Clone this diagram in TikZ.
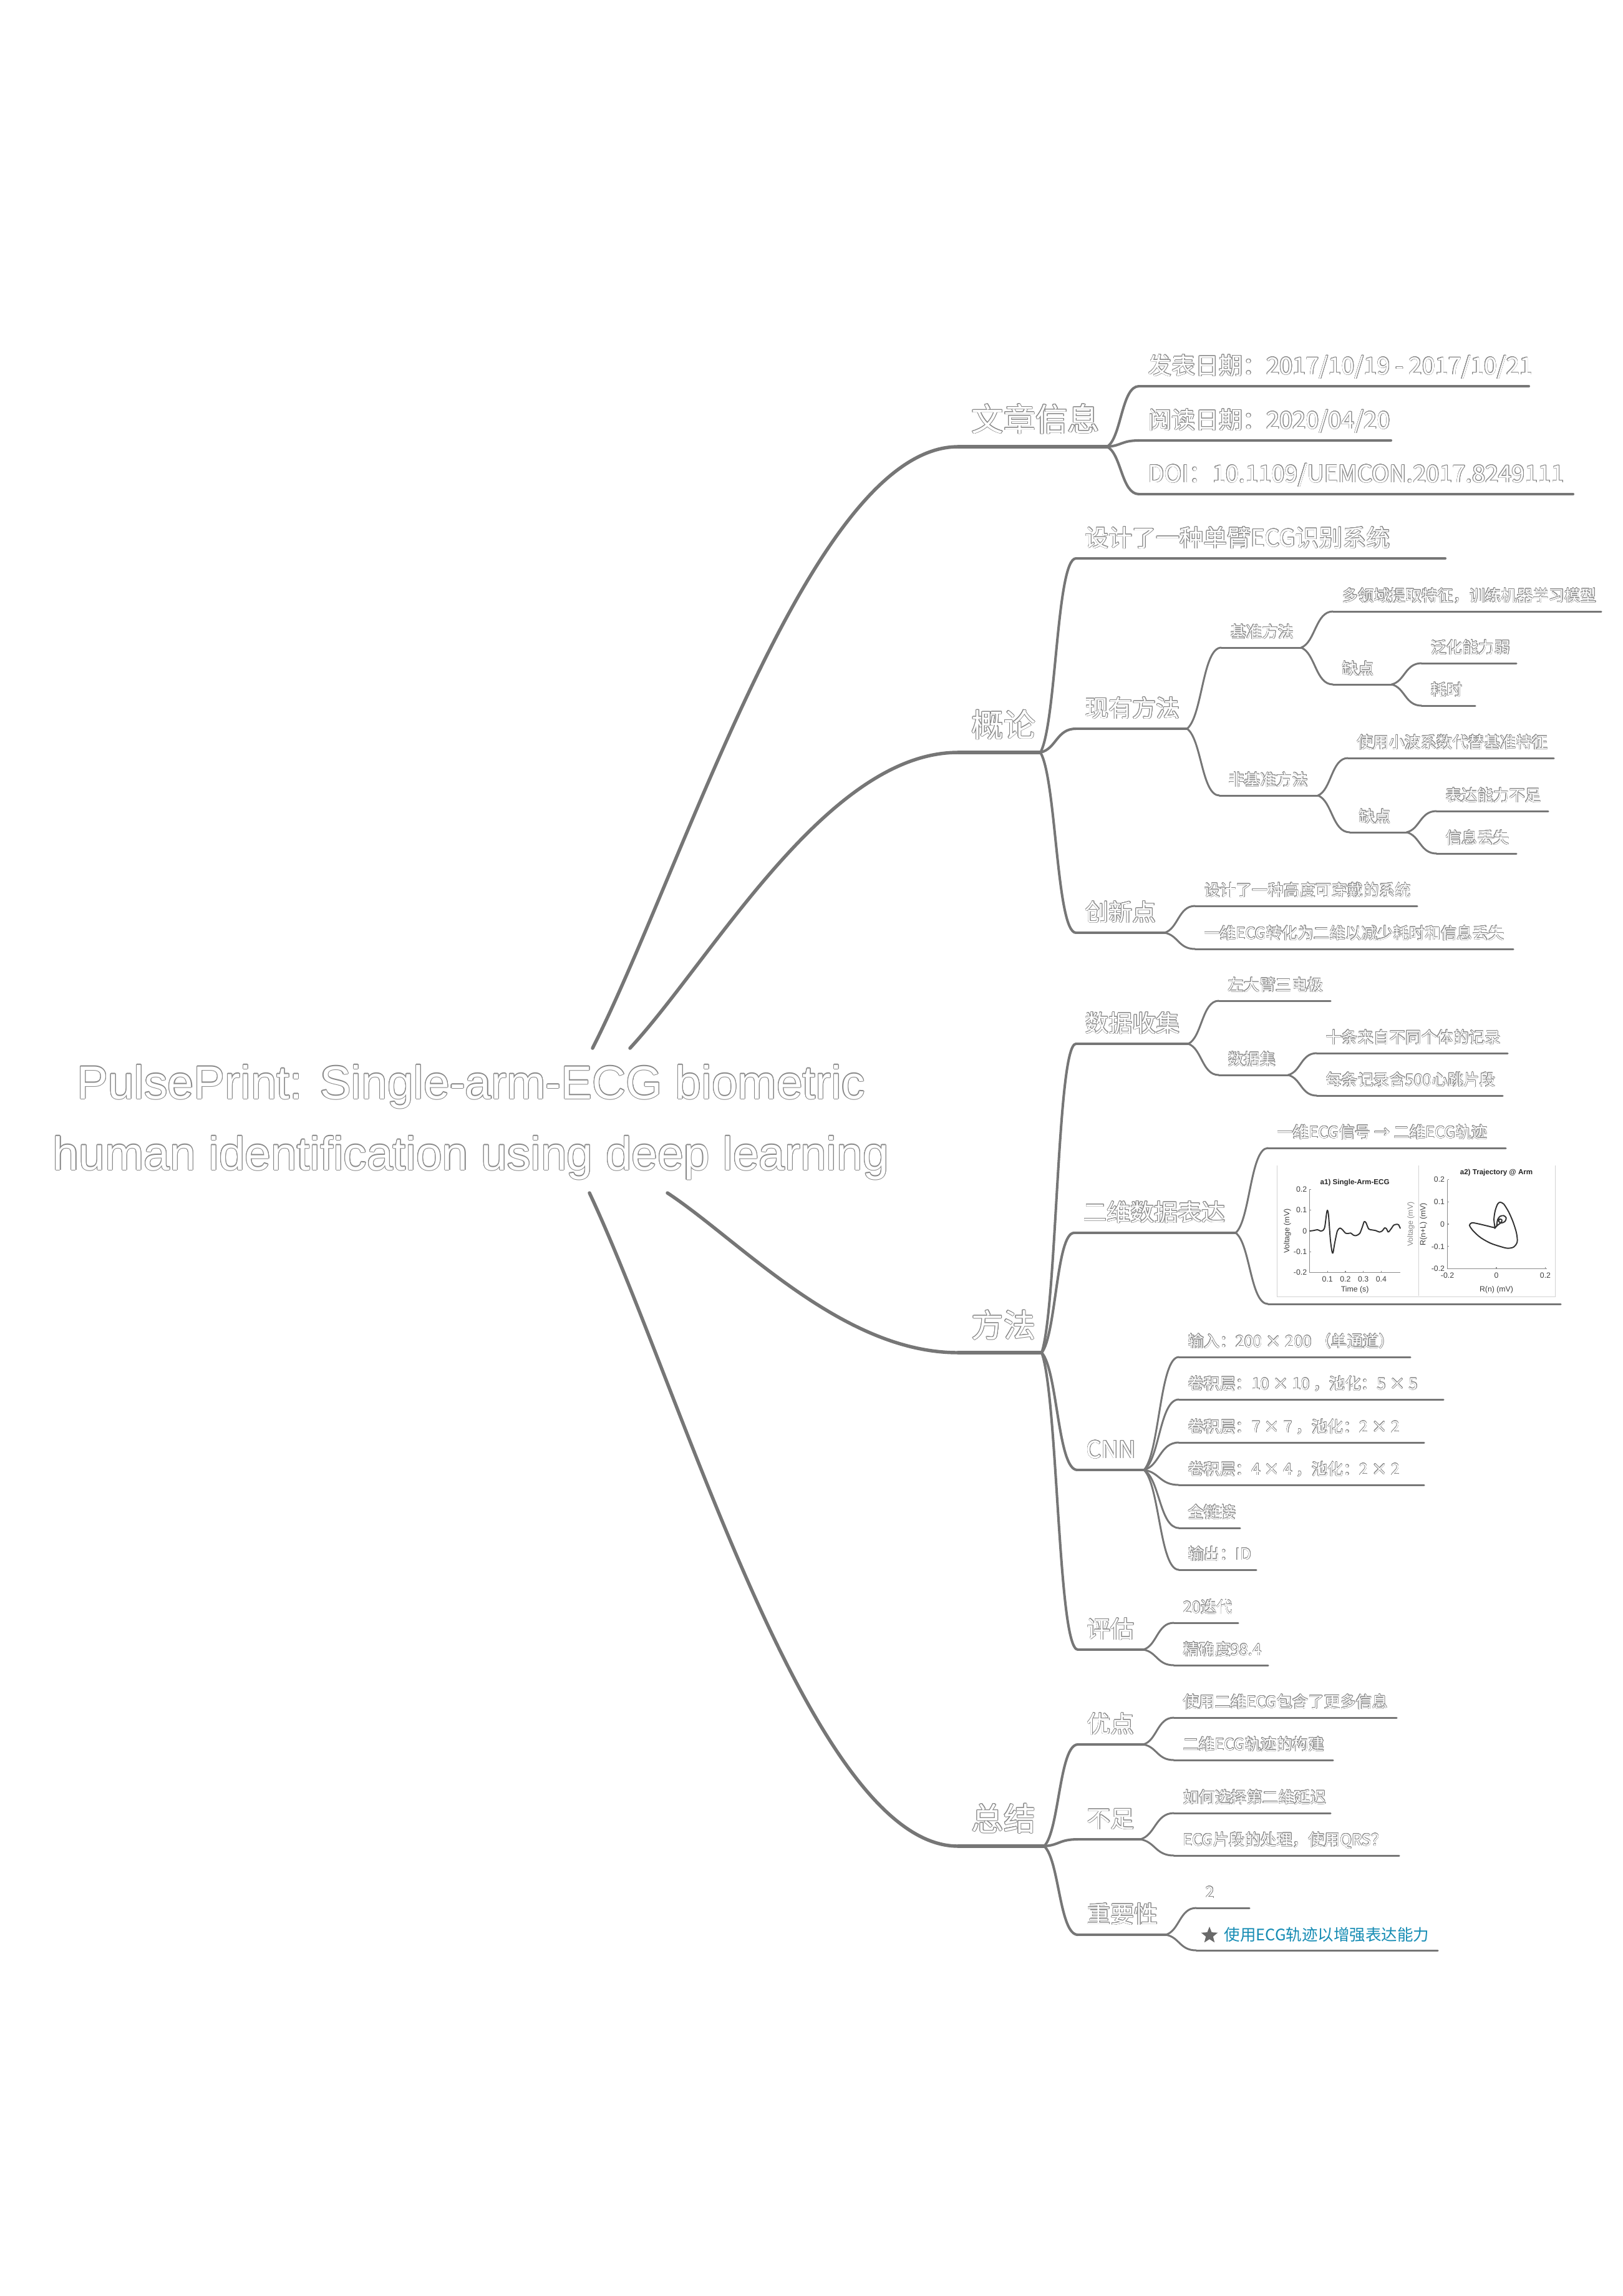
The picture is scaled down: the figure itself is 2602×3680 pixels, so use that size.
\documentclass[tikz,border=0pt]{standalone}
\usepackage{fontspec}
\setmainfont{Noto Sans CJK SC}
\newfontfamily\titlefont{Liberation Sans}
\newfontfamily\figfont{Liberation Sans}
\usepackage[copies]{contour}
\contourlength{0.25pt}
\contournumber{16}
\usetikzlibrary{calc,shapes.geometric}
\definecolor{linec}{RGB}{118,118,118}
\definecolor{outc}{RGB}{135,135,135}
\definecolor{bluec}{RGB}{22,140,180}
\definecolor{starc}{RGB}{105,105,105}
\definecolor{axisc}{RGB}{140,140,140}
\definecolor{ecgc}{RGB}{50,50,50}
\tikzset{
  ulA/.style={draw=linec, line width=1.55pt, line cap=round},
  ulB/.style={draw=linec, line width=1.15pt, line cap=round},
  ulC/.style={draw=linec, line width=0.85pt, line cap=round},
  txA/.style={anchor=base west, inner sep=0pt, text=white, font=\fontsize{14.6}{17}\selectfont},
  txB/.style={anchor=base west, inner sep=0pt, text=white, font=\fontsize{10.8}{13}\selectfont},
  txC/.style={anchor=base west, inner sep=0pt, text=white, font=\fontsize{7.25}{9}\selectfont},
  ttl/.style={anchor=base, inner sep=0pt, text=white, font=\titlefont\fontsize{21.3}{25}\selectfont},
  fig/.style={inner sep=0.4pt, text=black!75, font=\figfont\fontsize{3.5}{4}\selectfont},
  figt/.style={inner sep=0.4pt, text=black!85, font=\figfont\bfseries\fontsize{3.3}{4}\selectfont},
  axl/.style={draw=axisc, line width=0.35pt},
  ecg/.style={draw=ecgc, line width=0.55pt, line join=round},
}
% topic: name, x0, x1, y, text
\newcommand\topicA[5]{\coordinate (#1-s) at (#2,#4);\coordinate (#1-e) at (#3,#4);
  \draw[ulA] (#1-s) -- (#1-e);
  \node[txA] (#1) at (#2+21,#4-25) {\contourlength{0.28pt}\contour{outc}{#5}};}
\newcommand\topicB[5]{\coordinate (#1-s) at (#2,#4);\coordinate (#1-e) at (#3,#4);
  \draw[ulB] (#1-s) -- (#1-e);
  \node[txB] (#1) at (#2+14,#4-19) {\contourlength{0.2pt}\contour{outc}{#5}};}
\newcommand\topicC[5]{\coordinate (#1-s) at (#2,#4);\coordinate (#1-e) at (#3,#4);
  \draw[ulC] (#1-s) -- (#1-e);
  \node[txC] (#1) at (#2+14,#4-16) {\contourlength{0.14pt}\contour{outc}{#5}};}
% connector from parent's branch point to child's underline start
\newcommand\subconn[3]{\draw[#1] let \p1=(#2-e), \p2=(#3-s) in (\p1)
  .. controls ({\x1+0.45*(\x2-\x1)},{\y1+0.15*(\y2-\y1)}) and ({\x1+0.45*(\x2-\x1)},{\y2}) .. (\p2);}
\newcommand\mainconn[2]{\draw[ulA] let \p1=(#1), \p2=(#2-s) in (\p1)
  .. controls ({\x1+0.25*(\x2-\x1)},{\y1+0.3*(\y2-\y1)}) and ({\x1+0.6*(\x2-\x1)},{\y2}) .. (\p2);}
\begin{document}
\begin{tikzpicture}[x=0.1mm,y=-0.1mm]
\useasboundingbox (0,0) rectangle (2602,3680);
\fill[white] (0,0) rectangle (2602,3680);

% ---------- central topic ----------
\node[ttl] (titleA) at (755,1761) {\contourlength{0.3pt}\contour{outc}{PulsePrint: Single-arm-ECG biometric}};
\node[ttl] (titleB) at (755,1875) {\contourlength{0.3pt}\contour{outc}{human identification using deep learning}};
\coordinate (cu1) at (950,1680);
\coordinate (cu2) at (1010,1680);
\coordinate (cd1) at (945,1912);
\coordinate (cd2) at (1070,1912);

% ---------- main topics ----------
\topicA{wz}{1536}{1775}{716}{文章信息}
\topicA{gl}{1536}{1668}{1206}{概论}
\topicA{ff}{1536}{1670}{2168}{方法}
\topicA{zj}{1536}{1674}{2959}{总结}
\mainconn{cu1}{wz}
\mainconn{cu2}{gl}
\mainconn{cd2}{ff}
\mainconn{cd1}{zj}

% ---------- 文章信息 ----------
\topicB{fb}{1826}{2451}{619}{发表日期：2017/10/19 - 2017/10/21}
\topicB{yd}{1826}{2230}{706}{阅读日期：2020/04/20}
\topicB{doi}{1826}{2522}{792}{DOI：10.1109/UEMCON.2017.8249111}
\subconn{ulB}{wz}{fb}
\subconn{ulB}{wz}{yd}
\subconn{ulB}{wz}{doi}

% ---------- 概论 ----------
\topicB{sj}{1725}{2317}{895}{设计了一种单臂ECG识别系统}
\topicB{xy}{1725}{1903}{1168}{现有方法}
\topicB{cx}{1725}{1867}{1495}{创新点}
\subconn{ulB}{gl}{sj}
\subconn{ulB}{gl}{xy}
\subconn{ulB}{gl}{cx}

\topicC{jz}{1958}{2086}{1038}{基准方法}
\topicC{fjz}{1955}{2113}{1275}{非基准方法}
\subconn{ulC}{xy}{jz}
\subconn{ulC}{xy}{fjz}

\topicC{dly}{2137}{2567}{980}{多领域提取特征，训练机器学习模型}
\topicC{qda}{2137}{2231}{1097}{缺点}
\subconn{ulC}{jz}{dly}
\subconn{ulC}{jz}{qda}
\topicC{fh}{2279}{2431}{1063}{泛化能力弱}
\topicC{hs}{2279}{2365}{1131}{耗时}
\subconn{ulC}{qda}{fh}
\subconn{ulC}{qda}{hs}

\topicC{xb}{2161}{2491}{1215}{使用小波系数代替基准特征}
\topicC{qdb}{2164}{2255}{1334}{缺点}
\subconn{ulC}{fjz}{xb}
\subconn{ulC}{fjz}{qdb}
\topicC{bd}{2303}{2482}{1300}{表达能力不足}
\topicC{xx}{2303}{2431}{1368}{信息丢失}
\subconn{ulC}{qdb}{bd}
\subconn{ulC}{qdb}{xx}

\topicC{kc}{1916}{2272}{1452}{设计了一种高度可穿戴的系统}
\topicC{zh}{1916}{2426}{1521}{一维ECG转化为二维以减少耗时和信息丢失}
\subconn{ulC}{cx}{kc}
\subconn{ulC}{cx}{zh}

% ---------- 方法 ----------
\topicB{sjsj}{1725}{1905}{1673}{数据收集}
\topicB{ew}{1722}{1981}{1976}{二维数据表达}
\topicB{cnn}{1727}{1834}{2356}{CNN}
\topicB{pg}{1728}{1833}{2644}{评估}
\subconn{ulB}{ff}{sjsj}
\subconn{ulB}{ff}{ew}
\subconn{ulB}{ff}{cnn}
\subconn{ulB}{ff}{pg}

\topicC{zd}{1954}{2133}{1604}{左大臂三电极}
\topicC{sjj}{1954}{2065}{1723}{数据集}
\subconn{ulC}{sjsj}{zd}
\subconn{ulC}{sjsj}{sjj}
\topicC{st}{2111}{2417}{1688}{十条来自不同个体的记录}
\topicC{mt}{2111}{2409}{1756}{每条记录含500心跳片段}
\subconn{ulC}{sjj}{st}
\subconn{ulC}{sjj}{mt}

\topicC{yw}{2033}{2414}{1840}{一维ECG信号 → 二维ECG轨迹}
\coordinate (img-s) at (2033,2090);
\coordinate (img-e) at (2502,2090);
\draw[ulC] (img-s) -- (img-e);
\subconn{ulC}{ew}{yw}
\subconn{ulC}{ew}{img}

% ---- embedded figure ----
\node[inner sep=0pt, minimum width=44.5mm, minimum height=20.9mm, anchor=north west] (imgbox) at (2047,1868) {};
\draw[gray!35, line width=0.3pt] (imgbox.north west) -- (imgbox.south west) -- (imgbox.south east) -- (imgbox.north east);
\draw[gray!35, line width=0.3pt] (2274,1868) -- (2274,2077);
\begin{scope}[shift={(2099.5,1973)}, x=28.7mm, y=33.3mm]
  \draw[axl] (0,0.2) -- (0,-0.2) -- (0.507,-0.2);
  \foreach \vv in {-0.2,-0.1,0,0.1,0.2} {\draw[axl] (0,\vv) -- (0.008,\vv);
     \node[fig, anchor=east] at (-0.008,\vv) {\vv};}
  \foreach \tv in {0.1,0.2,0.3,0.4} {\draw[axl] (\tv,-0.2) -- (\tv,-0.192);
     \node[fig, anchor=north] at (\tv,-0.212) {\tv};}
  \node[fig] at (0.253,-0.283) {Time (s)};
  \node[fig, rotate=90] at (-0.124,0) {Voltage (mV)};
  \node[figt] at (0.253,0.234) {a1) Single-Arm-ECG};
  \draw[ecg] plot[smooth, tension=0.45] coordinates {(0,0) (0.02,0.002) (0.045,0.006) (0.06,0.0) (0.075,0.003) (0.085,0.02) (0.095,0.085) (0.1,0.1) (0.106,0.075) (0.116,-0.04) (0.125,-0.098) (0.131,-0.105) (0.14,-0.06) (0.155,0.0) (0.17,0.014) (0.185,0.005) (0.2,-0.01) (0.215,-0.012) (0.23,-0.01) (0.245,-0.02) (0.26,-0.022) (0.28,-0.012) (0.295,0.02) (0.305,0.045) (0.315,0.04) (0.33,0.01) (0.35,0.005) (0.37,0.002) (0.39,-0.005) (0.405,0.0) (0.42,0.015) (0.43,0.01) (0.44,-0.005) (0.455,0.01) (0.47,0.028) (0.485,0.032) (0.497,0.03) (0.507,0.012)};
\end{scope}
\begin{scope}[shift={(2399,1962)}, x=39.25mm, y=35.75mm]
  \draw[axl] (-0.2,0.2) -- (-0.2,-0.2) -- (0.207,-0.2);
  \foreach \vv in {-0.2,-0.1,0,0.1,0.2} {\draw[axl] (-0.2,\vv) -- (-0.194,\vv);
     \node[fig, anchor=east] at (-0.206,\vv) {\vv};}
  \foreach \tv in {-0.2,0,0.2} {\draw[axl] (\tv,-0.2) -- (\tv,-0.192);
     \node[fig, anchor=north] at (\tv,-0.212) {\tv};}
  \node[fig] at (0,-0.294) {R(n) (mV)};
  \node[fig, rotate=90, text=black!45] at (-0.349,0) {Voltage (mV)};
  \node[fig, rotate=90] at (-0.298,0) {R(n+L) (mV)};
  \node[figt] at (0,0.232) {a2) Trajectory @ Arm};
  \draw[ecg] plot[smooth, tension=0.5] coordinates {(-0.005,-0.02) (-0.01,0.02) (-0.005,0.06) (0.005,0.09) (0.015,0.098) (0.03,0.09) (0.05,0.055) (0.068,0.01) (0.082,-0.04) (0.085,-0.08) (0.07,-0.103) (0.045,-0.108) (0.015,-0.1) (-0.025,-0.085) (-0.065,-0.06) (-0.095,-0.03) (-0.11,-0.005) (-0.1,0.006) (-0.085,0.004) (-0.06,-0.002) (-0.03,-0.01) (-0.01,-0.015) (0.0,-0.01) (0.005,0.02) (0.015,0.035) (0.03,0.038) (0.04,0.028) (0.035,0.012) (0.02,0.005) (0.01,0.012) (0.012,0.022) (0.022,0.02) (0.02,0.008) (0.005,-0.005) (-0.008,-0.02)};
\end{scope}

% ---- CNN ----
\topicC{ca}{1890}{2261}{2175}{输入：200 × 200 （单通道）}
\topicC{cb}{1890}{2314}{2243}{卷积层：10 × 10 ，池化：5 × 5}
\topicC{cc}{1890}{2283}{2312}{卷积层：7 × 7 ，池化：2 × 2}
\topicC{cd}{1890}{2283}{2380}{卷积层：4 × 4 ，池化：2 × 2}
\topicC{ce}{1890}{1988}{2449}{全链接}
\topicC{cf}{1890}{2014}{2516}{输出：ID}
\subconn{ulC}{cnn}{ca}
\subconn{ulC}{cnn}{cb}
\subconn{ulC}{cnn}{cc}
\subconn{ulC}{cnn}{cd}
\subconn{ulC}{cnn}{ce}
\subconn{ulC}{cnn}{cf}

% ---- 评估 ----
\topicC{pa}{1882}{1985}{2601}{20迭代}
\topicC{pb}{1882}{2033}{2669}{精确度98.4}
\subconn{ulC}{pg}{pa}
\subconn{ulC}{pg}{pb}

% ---------- 总结 ----------
\topicB{yo}{1728}{1833}{2796}{优点}
\topicB{bz}{1728}{1828}{2948}{不足}
\topicB{zy}{1728}{1869}{3101}{重要性}
\subconn{ulB}{zj}{yo}
\subconn{ulB}{zj}{bz}
\subconn{ulB}{zj}{zy}

\topicC{ya}{1882}{2239}{2753}{使用二维ECG包含了更多信息}
\topicC{yb}{1882}{2137}{2821}{二维ECG轨迹的构建}
\subconn{ulC}{yo}{ya}
\subconn{ulC}{yo}{yb}

\topicC{ba}{1882}{2133}{2906}{如何选择第二维延迟}
\topicC{bb}{1882}{2243}{2974}{ECG片段的处理，使用QRS？}
\subconn{ulC}{bz}{ba}
\subconn{ulC}{bz}{bb}

\topicC{za}{1918}{2003}{3058}{2}
\coordinate (zb-s) at (1918,3126);
\coordinate (zb-e) at (2305,3126);
\draw[ulC] (zb-s) -- (zb-e);
\node[star, star points=5, star point ratio=2.3, fill=starc, inner sep=0pt, minimum size=2.8mm] (zbstar) at (1939,3102) {};
\node[txC, text=bluec] (zb) at (1962,3110) {使用ECG轨迹以增强表达能力};
\subconn{ulC}{zy}{za}
\subconn{ulC}{zy}{zb}
\end{tikzpicture}
\end{document}
